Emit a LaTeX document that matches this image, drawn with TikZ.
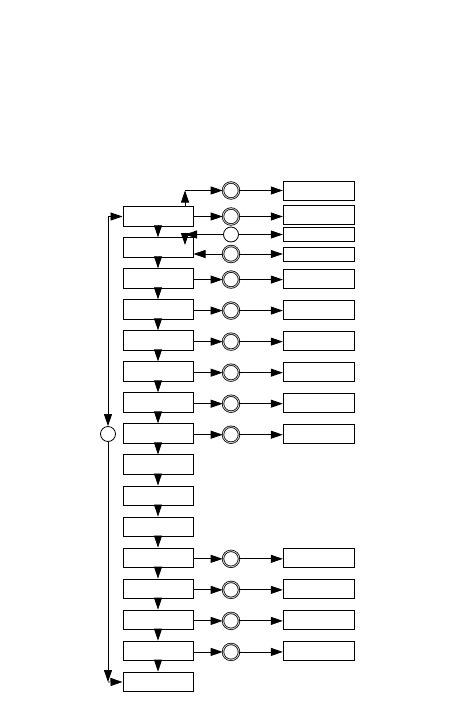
\documentclass[tikz,border=0pt]{standalone}
\usetikzlibrary{arrows.meta}
\begin{document}
\begin{tikzpicture}[x=1pt,y=-1pt,
  lbox/.style={draw,line width=1pt,minimum width=70pt,minimum height=19.5pt,inner sep=0pt},
  rbox/.style={draw,line width=1pt,minimum width=71pt,minimum height=19pt,inner sep=0pt},
  dcirc/.style={circle,draw=black,double=gray!45,double distance=0.9pt,line width=0.7pt,minimum size=16pt,inner sep=0pt},
  scirc/.style={circle,draw,line width=0.8pt,minimum size=15pt,inner sep=0pt},
  conn/.style={line width=0.8pt,-{Triangle[length=12pt,width=8pt]}}]
\useasboundingbox (0,0) rectangle (455,710);
% left column
\foreach \i in {1,...,16} { \node[lbox] (L\i) at (158,{216.5+31.03*(\i-1)}) {}; }
\foreach \i [evaluate=\i as \j using int(\i+1)] in {1,...,15} { \draw[conn] (L\i) -- (L\j); }
% regular rows
\foreach \i in {3,4,5,6,7,8,12,13,14,15} {
  \node[dcirc] (C\i) at (231,{216.5+31.03*(\i-1)+1}) {};
  \node[rbox] (R\i) at (318.8,{216.5+31.03*(\i-1)}) {};
  \draw[conn] (L\i.east |- C\i) -- (C\i);
  \draw[conn] (C\i) -- (R\i.west |- C\i);
}
% top special rows
\node[dcirc] (CA) at (231,190.5) {};
\node[rbox] (RA) at (318.8,190.5) {};
\node[dcirc] (CB) at (231,216.5) {};
\node[rbox,minimum height=18.6pt] (RB) at (318.8,215) {};
\node[scirc] (CC) at (231,234.5) {};
\node[rbox,minimum height=14.4pt] (RC) at (318.8,234.5) {};
\node[dcirc] (CD) at (231,254) {};
\node[rbox,minimum height=14.4pt] (RD) at (318.8,254.5) {};
\coordinate (kA) at (185,190.5);
\coordinate (kC) at (185,234.5);
\coordinate (kC2) at (185,245);
\draw[conn] (L1.north -| kA) -- (kA);
\draw[conn] (kA) -- (CA);
\draw[conn] (CA) -- (RA.west |- CA);
\draw[conn] (L1.east |- CB) -- (CB);
\draw[conn] (CB) -- (RB.west |- CB);
\draw[conn] (CC) -- (kC);
\draw[conn] (kC) -- (kC2);
\draw[conn] (CC) -- (RC.west |- CC);
\draw[conn] (CD) -- (L2.east |- CD);
\draw[conn] (CD) -- (RD.west |- CD);
% left loop
\node[scirc] (LC) at (108,434) {};
\coordinate (kT) at (108,216.5);
\coordinate (kB) at (108,682);
\draw[conn] (kT) -- (L1.west);
\draw[conn] (kT) -- (LC);
\draw[conn] (LC) -- (kB);
\draw[conn] (kB) -- (L16.west);
\end{tikzpicture}
\end{document}
